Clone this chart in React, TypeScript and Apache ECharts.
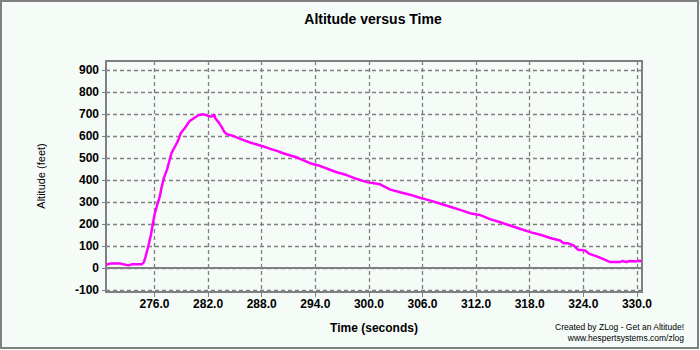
import React, { useEffect, useRef } from "react";
import * as echarts from "echarts";

const titleText = "Altitude versus Time";
const xName = "Time (seconds)";
const yName = "Altitude (feet)";
const footer1 = "Created by ZLog - Get an Altitude!";
const footer2 = "www.hespertsystems.com/zlog";

const xTicks = [276, 282, 288, 294, 300, 306, 312, 318, 324, 330];
const yTicks = [-100, 0, 100, 200, 300, 400, 500, 600, 700, 800, 900];

const times = [
  270.6, 271.0, 271.6, 272.2, 272.5, 273.1, 273.5, 274.6, 274.8, 275.0,
  275.3, 275.6, 275.8, 276.0, 276.3, 276.6, 276.8, 277.05, 277.4, 277.6,
  277.9, 278.2, 278.6, 278.95, 279.4, 279.9, 280.4, 280.9, 281.4, 281.85,
  282.2, 282.5, 282.7, 282.8, 283.2, 283.5, 283.8, 284.1, 284.65, 285.2,
  285.96, 286.7, 287.45, 288.2, 288.95, 289.7, 290.4, 291.2, 291.9, 292.3,
  293.4, 294.5, 295.65, 296.4, 297.5, 298.6, 299.76, 301.25, 302.4, 303.5,
  304.6, 305.7, 306.8, 308.0, 309.1, 310.2, 311.3, 312.4, 313.55, 314.7,
  315.8, 316.9, 318.05, 319.2, 320.3, 321.4, 321.8, 322.3, 322.9, 323.4,
  324.2, 324.7, 325.5, 326.2, 327.0, 328.1, 328.4, 328.8, 329.2, 329.9,
  330.3, 330.5,
];
const altitudes = [
  16, 21, 21, 21, 18, 13, 18, 18, 27, 53,
  99, 152, 198, 243, 286, 327, 369, 410, 448, 478,
  523, 546, 576, 614, 637, 667, 681, 695, 699, 694,
  689, 690, 698, 681, 661, 643, 620, 608, 603, 594,
  582, 571, 562, 553, 542, 533, 522, 512, 504, 497,
  477, 465, 447, 436, 423, 406, 391, 381, 357, 345,
  334, 320, 308, 293, 279, 265, 250, 242, 223, 209,
  194, 179, 164, 152, 137, 126, 113, 113, 104, 84,
  80, 65, 54, 42, 28, 28, 33, 28, 33, 31,
  34, 31,
];

const FONT = "'Liberation Sans', Arial, sans-serif";
const GRAY = "#808080";

export default function App() {
  const ref = useRef<HTMLDivElement>(null);
  useEffect(() => {
    document.body.style.margin = "0";
    if (!ref.current) return;
    const chart = echarts.init(ref.current, null, { renderer: "svg" });
    const data = times.map((t, i) => [t, altitudes[i]]);
    chart.setOption({
      animation: false,
      backgroundColor: "#F5FBF7",
      textStyle: { fontFamily: FONT },
      grid: {
        left: 106,
        top: 61,
        width: 536,
        height: 231,
        show: true,
        borderColor: GRAY,
        borderWidth: 2,
        backgroundColor: "transparent",
      },
      xAxis: {
        type: "value",
        min: 270.57,
        max: 330.57,
        axisLine: { show: false, onZero: false },
        axisTick: {
          show: true,
          length: 5,
          customValues: xTicks,
          lineStyle: { color: GRAY, width: 1 },
        },
        axisLabel: {
          customValues: xTicks,
          formatter: (v: number) => v.toFixed(1),
          color: "#000",
          fontWeight: "bold",
          fontSize: 12,
          fontFamily: FONT,
          margin: 6,
        },
        splitLine: {
          show: true,
          lineStyle: { color: GRAY, type: [4, 3], width: 1.3 },
        },
      },
      yAxis: {
        type: "value",
        min: -108,
        max: 941,
        axisLine: { show: false },
        axisTick: {
          show: true,
          length: 4,
          customValues: yTicks,
          lineStyle: { color: GRAY, width: 1 },
        },
        axisLabel: {
          customValues: yTicks,
          color: "#000",
          fontWeight: "bold",
          fontSize: 12,
          fontFamily: FONT,
          margin: 7,
        },
        splitLine: {
          show: true,
          lineStyle: { color: GRAY, type: [4, 3], width: 1.3 },
        },
      },
      series: [
        {
          type: "line",
          data,
          showSymbol: false,
          symbol: "none",
          lineStyle: { color: "#FF00FF", width: 2.5 },
          z: 5,
          markLine: {
            silent: true,
            symbol: ["none", "none"],
            label: { show: false },
            lineStyle: { color: GRAY, type: "solid", width: 2 },
            data: [{ yAxis: 0 }],
            z: 3,
          },
        },
      ],
      graphic: [
        {
          type: "rect",
          shape: { x: 1, y: 1, width: 697, height: 347 },
          style: { fill: "none", stroke: GRAY, lineWidth: 2 },
          silent: true,
        },
        {
          type: "text",
          x: 373,
          y: 19,
          style: {
            text: titleText,
            fontFamily: FONT,
            fontSize: 14,
            fontWeight: "bold",
            fill: "#000",
            textAlign: "center",
            align: "center",
            textVerticalAlign: "middle",
            verticalAlign: "middle",
          },
        },
        {
          type: "text",
          x: 41,
          y: 176,
          rotation: Math.PI / 2,
          style: {
            text: yName,
            fontFamily: FONT,
            fontSize: 11,
            fill: "#000",
            textAlign: "center",
            align: "center",
            textVerticalAlign: "middle",
            verticalAlign: "middle",
          },
        },
        {
          type: "text",
          x: 374,
          y: 328,
          style: {
            text: xName,
            fontFamily: FONT,
            fontSize: 12,
            fontWeight: "bold",
            fill: "#000",
            textAlign: "center",
            align: "center",
            textVerticalAlign: "middle",
            verticalAlign: "middle",
          },
        },
        {
          type: "text",
          x: 684,
          y: 327,
          style: {
            text: footer1,
            fontFamily: FONT,
            fontSize: 8.5,
            fill: "#000",
            textAlign: "right",
            align: "right",
            textVerticalAlign: "middle",
            verticalAlign: "middle",
          },
        },
        {
          type: "text",
          x: 684,
          y: 338,
          style: {
            text: footer2,
            fontFamily: FONT,
            fontSize: 8.5,
            fill: "#000",
            textAlign: "right",
            align: "right",
            textVerticalAlign: "middle",
            verticalAlign: "middle",
          },
        },
      ],
    });
    return () => chart.dispose();
  }, []);
  return (
    <div
      ref={ref}
      style={{ position: "absolute", left: 0, top: 0, width: 700, height: 350 }}
    />
  );
}
